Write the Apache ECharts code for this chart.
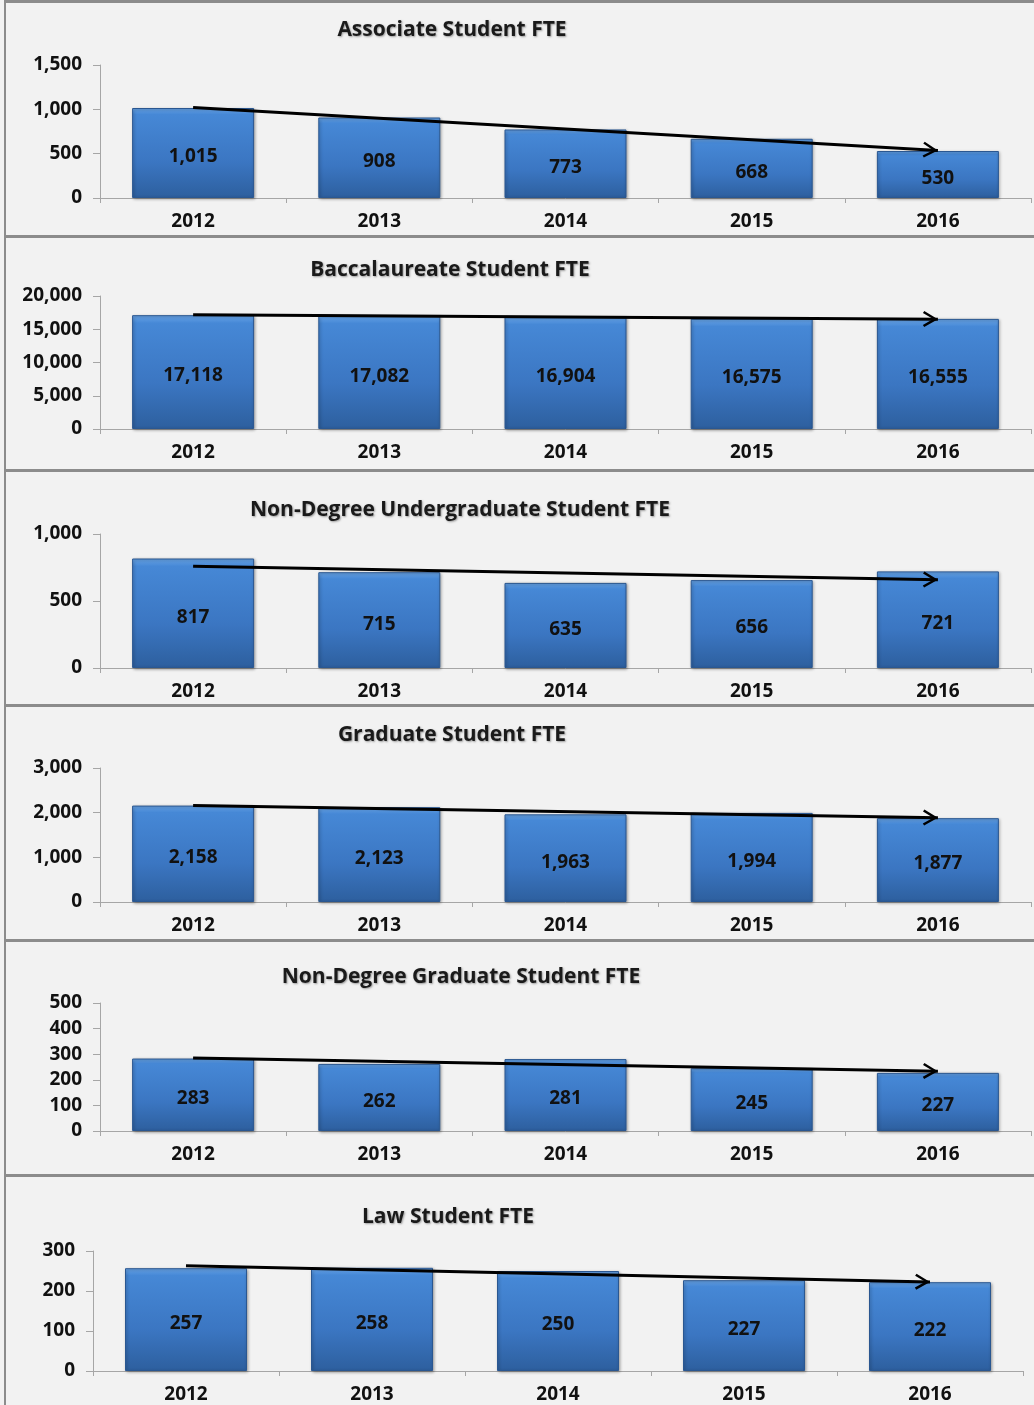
<!DOCTYPE html>
<html>
<head>
<meta charset="utf-8">
<title>Student FTE</title>
<script src="https://cdn.jsdelivr.net/npm/echarts@6/dist/echarts.min.js"></script>
<style>
  html, body { margin: 0; padding: 0; background: #f2f2f2; }
  #chart { width: 1034px; height: 1405px; }
</style>
</head>
<body>
<div id="chart"></div>
<script>
// data
var years = ["2012", "2013", "2014", "2015", "2016"];
var associate = [1015, 908, 773, 668, 530];
var baccalaureate = [17118, 17082, 16904, 16575, 16555];
var nonDegreeUndergrad = [817, 715, 635, 656, 721];
var graduate = [2158, 2123, 1963, 1994, 1877];
var nonDegreeGrad = [283, 262, 281, 245, 227];
var law = [257, 258, 250, 227, 222];

var titles = [
  "Associate Student FTE",
  "Baccalaureate Student FTE",
  "Non-Degree Undergraduate Student FTE",
  "Graduate Student FTE",
  "Non-Degree Graduate Student FTE",
  "Law Student FTE"
];
var yMax = [1500, 20000, 1000, 3000, 500, 300];
var yStep = [500, 5000, 500, 1000, 100, 100];
var seriesData = [associate, baccalaureate, nonDegreeUndergrad, graduate, nonDegreeGrad, law];

// layout of each panel
var panels = [
  { left: 100, top: 65, width: 931, height: 133, titleX: 452, titleY: 20 },
  { left: 100, top: 296, width: 931, height: 133, titleX: 450, titleY: 260 },
  { left: 100, top: 534, width: 931, height: 134, titleX: 460, titleY: 500 },
  { left: 100, top: 768, width: 931, height: 134, titleX: 452, titleY: 725 },
  { left: 100, top: 1003, width: 931, height: 128, titleX: 461, titleY: 967 },
  { left: 93, top: 1251, width: 930, height: 120, titleX: 448, titleY: 1207 }
];
var separators = [235, 469, 704, 939, 1174];

var FONT = "'Open Sans', 'Noto Sans', sans-serif";

// linear trendline (like the excel one) from the values
function trend(vals) {
  var n = vals.length, sx = 0, sy = 0, sxy = 0, sxx = 0;
  for (var i = 0; i < n; i++) {
    sx += i; sy += vals[i]; sxy += i * vals[i]; sxx += i * i;
  }
  var b = (n * sxy - sx * sy) / (n * sxx - sx * sx);
  var a = (sy - b * sx) / n;
  return [a, a + b * (n - 1)];
}

// open arrow head, tip sits on the symbol centre (empty subpath pads the box)
var chevron = "path://M0,12 L7,0 L14,12 L12.2,13.2 L7,4.2 L1.8,13.2 Z M7,-13.2 L7,-13.2 Z";

var barColor = new echarts.graphic.LinearGradient(0, 0, 0, 1, [
  { offset: 0, color: "#6aa6e8" },
  { offset: 0.07, color: "#4688d6" },
  { offset: 0.6, color: "#3b76c2" },
  { offset: 1, color: "#2d5f9e" }
]);

var option = {
  backgroundColor: "#f2f2f2",
  animation: false,
  title: [],
  grid: [],
  xAxis: [],
  yAxis: [],
  series: [],
  graphic: []
};

for (var i = 0; i < panels.length; i++) {
  var p = panels[i];
  option.title.push({
    text: titles[i],
    left: p.titleX,
    top: p.titleY,
    textAlign: "center",
    padding: 0,
    textStyle: {
      fontFamily: FONT,
      fontSize: 21,
      fontWeight: "bold",
      color: "#1a1a1a",
      textShadowColor: "rgba(0,0,0,0.35)",
      textShadowBlur: 2,
      textShadowOffsetX: 1,
      textShadowOffsetY: 1
    }
  });
  option.grid.push({ left: p.left, top: p.top, width: p.width, height: p.height });
  option.xAxis.push({
    type: "category",
    gridIndex: i,
    data: years,
    axisLine: { lineStyle: { color: "#a6a6a6", width: 1 } },
    axisTick: { show: true, length: 5, lineStyle: { color: "#a6a6a6" } },
    axisLabel: {
      margin: 14,
      fontFamily: FONT,
      fontSize: 19,
      fontWeight: "bold",
      color: "#111"
    }
  });
  option.yAxis.push({
    type: "value",
    gridIndex: i,
    min: 0,
    max: yMax[i],
    interval: yStep[i],
    splitLine: { show: false },
    axisLine: { show: true, lineStyle: { color: "#a6a6a6", width: 1 } },
    axisTick: { show: true, length: 7, lineStyle: { color: "#a6a6a6" } },
    axisLabel: {
      margin: 18,
      padding: [4, 0, 0, 0],
      fontFamily: FONT,
      fontSize: 19,
      fontWeight: "bold",
      color: "#111",
      formatter: function (v) { return v.toLocaleString("en-US"); }
    }
  });
  var t = trend(seriesData[i]);
  option.series.push({
    type: "bar",
    xAxisIndex: i,
    yAxisIndex: i,
    data: seriesData[i],
    barWidth: 122,
    itemStyle: {
      color: barColor,
      borderColor: "#2a5791",
      borderWidth: 1,
      shadowColor: "rgba(0,0,0,0.35)",
      shadowBlur: 3,
      shadowOffsetX: 1,
      shadowOffsetY: 1
    },
    label: {
      show: true,
      position: "inside",
      offset: [0, 4],
      fontFamily: FONT,
      fontSize: 19,
      fontWeight: "bold",
      color: "#111",
      formatter: function (prm) { return prm.value.toLocaleString("en-US"); }
    },
    markLine: {
      silent: true,
      symbol: ["none", chevron],
      symbolSize: [16, 30],
      lineStyle: { color: "#000", width: 3, type: "solid" },
      label: { show: false },
      data: [[
        { coord: [years[0], t[0]] },
        { coord: [years[years.length - 1], t[1]] }
      ]]
    }
  });
}

// frame lines between the panels
option.graphic.push({
  type: "rect",
  shape: { x: 4, y: 0, width: 1030, height: 3 },
  style: { fill: "#8c8c8c" }
});
option.graphic.push({
  type: "rect",
  shape: { x: 4, y: 0, width: 2, height: 1405 },
  style: { fill: "#8c8c8c" }
});
separators.forEach(function (y) {
  option.graphic.push({
    type: "rect",
    shape: { x: 4, y: y, width: 1030, height: 3 },
    style: { fill: "#8c8c8c" }
  });
});

var chart = echarts.init(document.getElementById("chart"));
chart.setOption(option);
</script>
</body>
</html>
